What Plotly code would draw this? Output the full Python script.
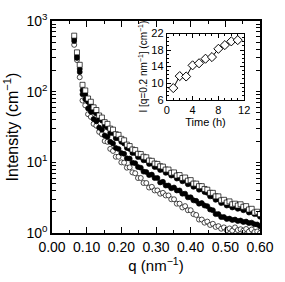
import plotly.graph_objects as go

q = [0.064, 0.072, 0.080, 0.088, 0.096, 0.104, 0.112, 0.120, 0.128, 0.136,
     0.144, 0.152, 0.160, 0.168, 0.176, 0.184, 0.192, 0.200, 0.208, 0.216,
     0.224, 0.232, 0.240, 0.248, 0.256, 0.264, 0.272, 0.280, 0.288, 0.296,
     0.304, 0.312, 0.320, 0.328, 0.336, 0.344, 0.352, 0.360, 0.368, 0.376,
     0.384, 0.392, 0.400, 0.408, 0.416, 0.424, 0.432, 0.440, 0.448, 0.456,
     0.464, 0.472, 0.480, 0.488, 0.496, 0.504, 0.512, 0.520, 0.528, 0.536,
     0.544, 0.552, 0.560, 0.568, 0.576, 0.584, 0.592, 0.600]

squares = [620, 360, 240, 125, 104, 80, 72, 60, 55, 46,
           43, 37, 35, 30, 29, 25, 24.5, 21.5, 20.5, 17.8,
           17, 15.2, 14.9, 13.2, 13.1, 12.0, 11.8, 10.6, 10.5, 9.6,
           9.5, 8.8, 8.7, 7.9, 7.9, 7.1, 7.2, 6.5, 6.6, 6.0,
           6.1, 5.5, 5.6, 5.0, 5.0, 4.6, 4.6, 4.2, 4.1, 3.7,
           3.7, 3.3, 3.3, 2.9, 2.95, 2.7, 2.8, 2.55, 2.6, 2.45,
           2.55, 2.35, 2.4, 2.15, 2.2, 1.95, 2.0, 1.85]

filled_hi = [560, 320, 210, 105, 92, 72, 64, 52, 49, 41,
             39, 33, 31, 26, 26, 22, 22, 19.5, 18.5, 16,
             15.5, 13.6, 13.5, 11.9, 11.9, 10.7, 10.7, 9.5, 9.6, 8.6,
             8.6, 7.8, 7.9, 7.1, 7.2, 6.5, 6.6, 5.9, 6.0, 5.4,
             5.5, 4.9, 5.0, 4.5, 4.6, 4.1, 4.2, 3.8, 3.7, 3.3,
             3.3, 2.95, 3.0, 2.65, 2.7, 2.45, 2.5, 2.3, 2.35, 2.2,
             2.25, 2.1, 2.15, 1.95, 2.0, 1.85, 1.85, 1.7]

filled_lo = [520, 300, 190, 92, 78, 58, 52, 41, 38, 31,
             29, 24, 23, 19.5, 18.5, 16, 15.5, 13.5, 13.2, 11.4,
             11.3, 9.9, 9.7, 8.6, 8.4, 7.4, 7.3, 6.6, 6.7, 6.0,
             6.0, 5.2, 5.3, 4.7, 4.7, 4.3, 4.4, 4.0, 4.0, 3.6,
             3.6, 3.2, 3.2, 2.9, 2.85, 2.6, 2.65, 2.45, 2.4, 2.15,
             2.1, 1.85, 1.85, 1.68, 1.68, 1.58, 1.6, 1.53, 1.55, 1.48,
             1.5, 1.43, 1.45, 1.38, 1.4, 1.33, 1.32, 1.25]

open_circ = [460, 280, 160, 75, 64, 48, 44, 35, 33, 27,
             25, 20, 19.5, 15.5, 14.5, 12, 12, 10, 9.9, 8.4,
             8.5, 7.2, 7.0, 6.0, 6.0, 5.1, 5.1, 4.4, 4.5, 4.0,
             4.0, 3.6, 3.7, 3.4, 3.4, 3.0, 3.0, 2.6, 2.6, 2.3,
             2.4, 2.1, 2.1, 1.85, 1.8, 1.55, 1.55, 1.4, 1.45, 1.3,
             1.35, 1.22, 1.25, 1.15, 1.2, 1.1, 1.16, 1.08, 1.2, 1.1,
             1.13, 1.08, 1.14, 1.05, 1.12, 1.03, 1.05, 1.0]

time_h = [1, 2, 3, 4, 5, 6, 7, 8, 9, 10, 11]
i_q02 = [8.8, 11.7, 11.6, 14.3, 14.8, 15.9, 16.3, 18.3, 19.2, 20.1, 20.4]

y_tickvals = [1, 2, 3, 4, 5, 6, 7, 8, 9,
              10, 20, 30, 40, 50, 60, 70, 80, 90,
              100, 200, 300, 400, 500, 600, 700, 800, 900, 1000]
y_ticktext = ["10<sup>0</sup>", "", "", "", "", "", "", "", "",
              "10<sup>1</sup>", "", "", "", "", "", "", "", "",
              "10<sup>2</sup>", "", "", "", "", "", "", "", "",
              "10<sup>3</sup>"]
x_tickvals = [0.0, 0.1, 0.2, 0.3, 0.4, 0.5, 0.6]
x_ticktext = ["0.00", "0.10", "0.20", "0.30", "0.40", "0.50", "0.60"]

FONT = "Liberation Sans"
fig = go.Figure()

def add(y, symbol, fill):
    fig.add_trace(go.Scatter(
        x=q, y=y, mode="markers",
        marker=dict(symbol=symbol, size=5,
                    color="black" if fill else "white",
                    line=dict(color="black", width=0.7)),
        showlegend=False, xaxis="x", yaxis="y"))

add(open_circ, "circle", False)
add(filled_lo, "circle", True)
add(filled_hi, "circle", True)
add(squares, "square", False)

fig.add_trace(go.Scatter(
    x=time_h, y=i_q02, mode="lines+markers",
    line=dict(color="black", width=1),
    marker=dict(symbol="diamond", size=7, color="white",
                line=dict(color="black", width=1)),
    showlegend=False, xaxis="x2", yaxis="y2"))

def ax(lw, **kw):
    d = dict(showline=True, linecolor="black", linewidth=lw,
             ticks="inside", mirror="allticks", showgrid=False,
             zeroline=False, tickcolor="black")
    d.update(kw)
    return d

fig.update_layout(
    width=285, height=282,
    margin=dict(l=51, r=11, t=12, b=49),
    paper_bgcolor="white", plot_bgcolor="white",
    font=dict(family=FONT, color="black", size=13),
    xaxis=ax(1.5, range=[0, 0.6], tickvals=x_tickvals, ticktext=x_ticktext,
             ticklen=6, tickwidth=1,
             minor=dict(ticks="inside", ticklen=3, dtick=0.05, tickcolor="black"),
             title=dict(text="q (nm<sup>−1</sup>)", font=dict(size=15), standoff=6),
             tickfont=dict(size=14)),
    yaxis=ax(1.5, type="log", range=[0, 3], tickvals=y_tickvals, ticktext=y_ticktext,
             ticklen=4, tickwidth=1,
             title=dict(text="Intensity (cm<sup>−1</sup>)", font=dict(size=16), standoff=4),
             tickfont=dict(size=14)),
    xaxis2=ax(1, domain=[0.552, 0.924], anchor="y2",
              range=[0, 12], tickvals=[0, 4, 8, 12], ticklen=4,
              minor=dict(ticks="inside", ticklen=2, dtick=1, tickcolor="black"),
              title=dict(text="Time (h)", font=dict(size=11), standoff=1),
              tickfont=dict(size=11)),
    yaxis2=ax(1, domain=[0.629, 0.941], anchor="x2",
              range=[6, 22], tickvals=[6, 10, 14, 18, 22], ticklen=4,
              minor=dict(ticks="inside", ticklen=2, dtick=1, tickcolor="black"),
              title=dict(text="I [q=0.2 nm<sup>−1</sup>] (cm<sup>−1</sup>)",
                         font=dict(size=10), standoff=1),
              tickfont=dict(size=11)),
)

fig.write_html("out.html")
